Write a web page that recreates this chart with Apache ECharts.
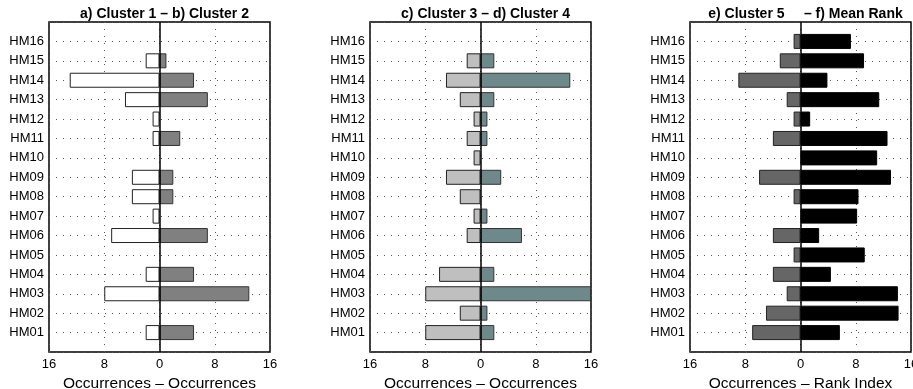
<!DOCTYPE html>
<html>
<head>
<meta charset="utf-8">
<script src="https://cdn.jsdelivr.net/npm/echarts@6/dist/echarts.min.js"></script>
<style>
  html, body { margin: 0; padding: 0; background: #fff; }
  #chart { width: 913px; height: 389px; }
</style>
</head>
<body>
<div id="chart"></div>
<script>
// categories bottom to top, padded with an empty slot at each end
var categories = ['', 'HM01', 'HM02', 'HM03', 'HM04', 'HM05', 'HM06', 'HM07', 'HM08',
  'HM09', 'HM10', 'HM11', 'HM12', 'HM13', 'HM14', 'HM15', 'HM16', ''];

// values HM01..HM16
var cluster1 = [2, 0, 8, 2, 0, 7, 1, 4, 4, 0, 1, 1, 5, 13, 2, 0];
var cluster2 = [5, 0, 13, 5, 0, 7, 0, 2, 2, 0, 3, 0, 7, 5, 1, 0];
var cluster3 = [8, 3, 8, 6, 0, 2, 1, 3, 5, 1, 2, 1, 3, 5, 2, 0];
var cluster4 = [2, 1, 16, 2, 0, 6, 1, 0, 3, 0, 1, 1, 2, 13, 2, 0];
var cluster5 = [7, 5, 2, 4, 1, 4, 0, 1, 6, 0, 4, 1, 2, 9, 3, 1];
var meanRank = [5.7, 14.2, 14.1, 4.4, 9.3, 2.7, 8.2, 8.4, 13.1, 11.1, 12.6, 1.4, 11.4, 3.9, 9.2, 7.3];

var xTicks = { min: -16, max: 16, interval: 8 };

var panels = [
  { left: 49, title: 'a) Cluster 1 \u2013 b) Cluster 2', name: 'Occurrences \u2013 Occurrences',
    leftData: cluster1, rightData: cluster2,
    leftColor: '#ffffff', leftBorder: '#222', rightColor: '#808080', rightBorder: '#333' },
  { left: 370, title: 'c) Cluster 3 \u2013 d) Cluster 4', name: 'Occurrences \u2013 Occurrences',
    leftData: cluster3, rightData: cluster4,
    leftColor: '#bfbfbf', leftBorder: '#222', rightColor: '#6e898c', rightBorder: '#333' },
  { left: 690, title: 'e) Cluster 5     \u2013 f) Mean Rank', name: 'Occurrences \u2013 Rank Index',
    leftData: cluster5, rightData: meanRank,
    leftColor: '#666666', leftBorder: '#222', rightColor: '#000000', rightBorder: '#000' }
];

function pad(arr, neg) {
  var out = [null];
  arr.forEach(function (v) { out.push(v === 0 ? null : (neg ? -v : v)); });
  out.push(null);
  return out;
}

var font = 'Liberation Sans';
var option = { animation: false, grid: [], xAxis: [], yAxis: [], title: [], series: [] };

panels.forEach(function (p, i) {
  option.grid.push({
    left: p.left, top: 22, width: 221, height: 330,
    outerBoundsMode: 'none', containLabel: false,
    show: true, borderColor: '#000', borderWidth: 1.5, backgroundColor: '#fff'
  });
  option.title.push({
    text: p.title, left: p.left + 110.5, top: 2, textAlign: 'center',
    textStyle: { fontFamily: font, fontSize: 14, fontWeight: 'bold', color: '#000' }
  });
  option.xAxis.push({
    type: 'value', gridIndex: i, min: xTicks.min, max: xTicks.max, interval: xTicks.interval,
    name: p.name, nameLocation: 'middle', nameGap: 17,
    nameTextStyle: { fontFamily: font, fontSize: 15.5, color: '#000' },
    axisLine: { show: false },
    axisTick: { show: false },
    axisLabel: {
      fontFamily: font, fontSize: 13, color: '#000', margin: 6,
      formatter: function (v) { return Math.abs(v); }
    },
    splitLine: { show: true, lineStyle: { color: '#555', type: [1, 6], width: 1 } }
  });
  option.yAxis.push({
    type: 'category', gridIndex: i, data: categories, boundaryGap: false,
    axisLine: { show: false },
    axisTick: { show: false },
    axisLabel: { fontFamily: font, fontSize: 13, color: '#000', margin: 5, interval: 0 },
    splitLine: { show: true, interval: 0, lineStyle: { color: '#555', type: [1, 6], width: 1 } }
  });
  option.series.push({
    type: 'bar', xAxisIndex: i, yAxisIndex: i, data: pad(p.leftData, true),
    barWidth: 15, barGap: '-100%',
    itemStyle: { color: p.leftColor, borderColor: p.leftBorder, borderWidth: 1 },
    silent: true
  });
  option.series.push({
    type: 'bar', xAxisIndex: i, yAxisIndex: i, data: pad(p.rightData, false),
    barWidth: 15, barGap: '-100%',
    itemStyle: { color: p.rightColor, borderColor: p.rightBorder, borderWidth: 1 },
    silent: true,
    markLine: {
      silent: true, symbol: 'none', label: { show: false }, animation: false,
      lineStyle: { color: '#000', type: 'solid', width: 1.5 },
      data: [{ xAxis: 0 }]
    }
  });
});

var chart = echarts.init(document.getElementById('chart'));
chart.setOption(option);
</script>
</body>
</html>
